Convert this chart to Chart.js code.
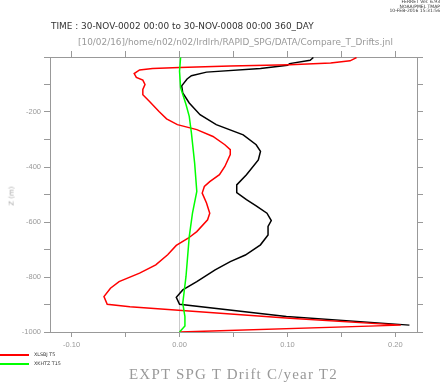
<!DOCTYPE html>
<html>
<head>
<meta charset="utf-8">
<script src="https://cdn.jsdelivr.net/npm/chart.js@4"></script>
<style>
  body { margin: 0; background: #fff; }
  #wrap { position: relative; width: 442px; height: 384px; overflow: hidden; }
  #grafico { position: absolute; left: 0; top: 0; }
  .txt { position: absolute; white-space: nowrap; font-family: "DejaVu Sans", sans-serif; }
  .lin { position: absolute; height: 1.5px; }
</style>
</head>
<body>
<div id="wrap">
  <canvas id="grafico" width="442" height="384"></canvas>

  <div class="txt" style="right:2px; top:0px; font-size:4.5px; line-height:4.6px; text-align:right; color:#333;">FERRET Ver. 6.93<br>NOAA/PMEL TMAP<br>10-FEB-2016 15:31:56</div>

  <div class="txt" style="left:51px; top:21px; font-size:9px; color:#333; transform:scaleX(0.99); transform-origin:left;">TIME : 30-NOV-0002 00:00 to 30-NOV-0008 00:00 360_DAY</div>
  <div class="txt" style="left:78px; top:37px; font-size:9px; color:#999; transform:scaleX(0.99); transform-origin:left;">[10/02/16]/home/n02/n02/lrdlrh/RAPID_SPG/DATA/Compare_T_Drifts.jnl</div>

  <div class="txt" style="left:2px; top:192px; font-size:7px; color:#aaa; transform:rotate(-90deg); transform-origin:center;">Z (m)</div>

  <div class="txt" style="left:129px; top:366px; font-size:15px; color:#999; letter-spacing:1.2px; font-family:'Liberation Serif', serif;">EXPT SPG T Drift C/year T2</div>

  <div class="lin" style="left:0; top:354px; width:29px; background:#f00;"></div>
  <div class="txt" style="left:34px; top:352px; font-size:4.8px; color:#333;">XLSBJ T5</div>
  <div class="lin" style="left:0; top:363px; width:29px; background:#0f0;"></div>
  <div class="txt" style="left:34px; top:361px; font-size:4.8px; color:#333;">XKHTZ T15</div>
</div>

<script>
// drift (C/year) and depth (m)
const blackDrift = [0.124, 0.121, 0.102, 0.100, 0.075, 0.025, 0.011, 0.007, 0.002, 0.003, 0.009, 0.019, 0.034, 0.059, 0.071, 0.075, 0.073, 0.062, 0.053, 0.053, 0.062, 0.071, 0.081, 0.085, 0.082, 0.082, 0.075, 0.061, 0.047, 0.033, 0.016, 0.003, -0.003, 0.000, 0.099, 0.213];
const blackDepth = [-2, -12, -24, -30, -42, -55, -68, -80, -105, -131, -167, -210, -246, -283, -319, -343, -374, -428, -465, -493, -519, -541, -568, -595, -616, -647, -683, -720, -744, -774, -817, -847, -874, -899, -944, -975];

const xlsbjDrift = [0.164, 0.158, 0.140, 0.102, 0.047, 0.000, -0.025, -0.037, -0.042, -0.040, -0.034, -0.032, -0.034, -0.034, -0.028, -0.019, -0.012, -0.002, 0.016, 0.031, 0.042, 0.047, 0.047, 0.042, 0.037, 0.028, 0.023, 0.021, 0.025, 0.028, 0.026, 0.016, 0.008, -0.003, -0.011, -0.022, -0.037, -0.056, -0.064, -0.070, -0.067, -0.046, 0.102, 0.205, 0.000];
const xlsbjDepth = [-2, -14, -22, -28, -33, -38, -42, -47, -60, -74, -84, -100, -118, -137, -161, -198, -225, -246, -264, -289, -319, -337, -355, -398, -428, -453, -471, -495, -531, -568, -592, -635, -659, -685, -719, -756, -786, -817, -841, -871, -899, -908, -950, -975, -1000];

const xkhtzDrift = [0.001, 0.000, 0.001, 0.006, 0.009, 0.011, 0.014, 0.016, 0.012, 0.009, 0.006, 0.003, 0.005, 0.005, 0.000];
const xkhtzDepth = [-2, -52, -111, -173, -216, -276, -386, -489, -568, -653, -798, -895, -944, -978, -1000];

const xTicks = { min: -0.12, max: 0.22, step: 0.05 };
const zTicks = { min: -1000, max: 0, step: 100 };

function pontos(xs, zs) {
    return xs.map((v, i) => ({ x: v, y: zs[i] }));
}

// ticks only on whole multiples of the step
function soMultiplos(lim) {
    return function (scale) {
        const ini = Math.ceil(lim.min / lim.step - 1e-9);
        const fim = Math.floor(lim.max / lim.step + 1e-9);
        const t = [];
        for (let k = ini; k <= fim; k++) t.push({ value: Math.round(k * lim.step * 1e6) / 1e6 });
        scale.ticks = t;
    };
}

const cinza = "#999";

function eixo(pos, lim, extra) {
    const base = {
        type: "linear",
        position: pos,
        min: lim.min,
        max: lim.max,
        ticks: { stepSize: lim.step, autoSkip: false, maxRotation: 0, color: cinza, font: { family: "Liberation Sans", size: 7.5 }, padding: 3 },
        grid: { drawOnChartArea: false, tickLength: 6, tickColor: cinza, lineWidth: 1 },
        border: { display: true, color: cinza, width: 1 },
        afterBuildTicks: soMultiplos(lim)
    };
    return Object.assign(base, extra);
}

const ctx = document.getElementById("grafico").getContext("2d");
new Chart(ctx, {
    type: "scatter",
    data: {
        datasets: [
            { label: "XKHTZ T15", data: pontos(xkhtzDrift, xkhtzDepth), borderColor: "#00ff00", showLine: true, pointRadius: 0, borderWidth: 1.5, tension: 0 },
            { label: "XLSBJ T5", data: pontos(xlsbjDrift, xlsbjDepth), borderColor: "#ff0000", showLine: true, pointRadius: 0, borderWidth: 1.5, tension: 0 },
            { label: "T2", data: pontos(blackDrift, blackDepth), borderColor: "#000000", showLine: true, pointRadius: 0, borderWidth: 1.5, tension: 0 }
        ]
    },
    options: {
        responsive: false,
        animation: false,
        layout: { padding: 0 },
        plugins: { legend: { display: false }, tooltip: { enabled: false } },
        scales: {
            x: eixo("bottom", xTicks, {
                afterFit: s => { s.height = 52; }
            }),
            x2: eixo("top", xTicks, {
                afterFit: s => { s.height = 57; }
            }),
            y: eixo("left", zTicks, {
                afterFit: s => { s.width = 50; }
            }),
            y2: eixo("right", zTicks, {
                afterFit: s => { s.width = 25; }
            })
        }
    }
});

// ajustes finos de cada eixo
const ch = Chart.getChart("grafico");
ch.options.scales.x.ticks.callback = v => Math.abs(v * 10 - Math.round(v * 10)) < 1e-6 ? v.toFixed(2) : "";
ch.options.scales.x.grid.drawOnChartArea = true;
ch.options.scales.x.grid.color = c => (c.tick && Math.abs(c.tick.value) < 1e-9) ? "#ccc" : "rgba(0,0,0,0)";
ch.options.scales.x.grid.tickLength = 5;
ch.options.scales.y.ticks.callback = v => (v % 200 === 0 && v !== 0) ? String(v) : "";
ch.options.scales.x2.ticks.display = false;
ch.options.scales.y2.ticks.display = false;
ch.update();
</script>
</body>
</html>
